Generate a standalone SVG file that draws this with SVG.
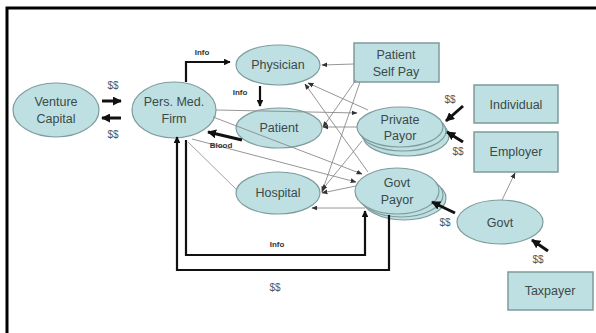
<svg xmlns="http://www.w3.org/2000/svg" width="596" height="333" viewBox="0 0 596 333">
<defs>
<marker id="thick" viewBox="0 0 10 10" refX="9" refY="5" markerWidth="3" markerHeight="3" orient="auto" markerUnits="strokeWidth"><path d="M0,0 L10,5 L0,10 z" fill="#111"/></marker>
<marker id="thin" viewBox="0 0 10 10" refX="9" refY="5" markerWidth="6" markerHeight="6" orient="auto" markerUnits="userSpaceOnUse"><path d="M0,1 L10,5 L0,9 z" fill="#333"/></marker>
<style>
.el{fill:#bfe0e3;stroke:#7f9c9c;stroke-width:1.2}
.bx{fill:#bfe0e3;stroke:#7f9a9a;stroke-width:1.5}
.t{font-family:"Liberation Sans",Arial,sans-serif;font-size:12.5px;fill:#3a4a4a;text-anchor:middle}
.s{font-family:"Liberation Sans",Arial,sans-serif;font-size:8px;font-weight:bold;fill:#333;text-anchor:middle}
.d{font-family:"Liberation Sans",Arial,sans-serif;font-size:10px;fill:#555;text-anchor:middle}
.k{fill:none;stroke:#111;stroke-width:3;marker-end:url(#thick)}
.kl{fill:none;stroke:#111;stroke-width:2.2}
.n{fill:none;stroke:#8a8a8a;stroke-width:0.9;marker-end:url(#thin)}
.n0{fill:none;stroke:#999;stroke-width:0.9}
</style>
</defs>
<rect width="596" height="333" fill="#fff"/>
<path d="M7,333 V8 H596" fill="none" stroke="#000" stroke-width="3"/>

<g id="venture-capital"><ellipse class="el" cx="56" cy="110" rx="43" ry="27"/><text class="t" x="56" y="106">Venture</text><text class="t" x="56" y="123">Capital</text></g>
<g id="pers-med-firm"><ellipse class="el" cx="174" cy="110" rx="42" ry="28"/><text class="t" x="174" y="106">Pers. Med.</text><text class="t" x="174" y="123">Firm</text></g>
<g id="physician"><ellipse class="el" cx="278" cy="65" rx="42" ry="20"/><text class="t" x="278" y="69">Physician</text></g>
<g id="patient"><ellipse class="el" cx="279" cy="128" rx="43" ry="20"/><text class="t" x="279" y="132">Patient</text></g>
<g id="hospital"><ellipse class="el" cx="278" cy="193" rx="42" ry="21"/><text class="t" x="278" y="197">Hospital</text></g>
<g id="patient-self-pay"><rect class="bx" x="354" y="43" width="85" height="39"/><text class="t" x="396" y="59">Patient</text><text class="t" x="396" y="76">Self Pay</text></g>
<g id="private-payor"><ellipse class="el" cx="406" cy="136" rx="43" ry="20"/><ellipse class="el" cx="403" cy="131" rx="43" ry="20"/><ellipse class="el" cx="400" cy="127" rx="43" ry="20"/><text class="t" x="400" y="124">Private</text><text class="t" x="400" y="140">Payor</text></g>
<g id="govt-payor"><ellipse class="el" cx="404" cy="198" rx="42" ry="22"/><ellipse class="el" cx="401" cy="195" rx="42" ry="22"/><ellipse class="el" cx="397" cy="191" rx="42" ry="23"/><text class="t" x="397" y="187">Govt</text><text class="t" x="397" y="204">Payor</text></g>
<g id="individual"><rect class="bx" x="474" y="85" width="84" height="38"/><text class="t" x="516" y="109">Individual</text></g>
<g id="employer"><rect class="bx" x="474" y="132" width="84" height="40"/><text class="t" x="516" y="156">Employer</text></g>
<g id="govt"><ellipse class="el" cx="500" cy="222" rx="43" ry="22"/><text class="t" x="500" y="227">Govt</text></g>
<g id="taxpayer"><rect class="bx" x="508" y="272" width="85" height="38"/><text class="t" x="550" y="295">Taxpayer</text></g>

<g id="connectors">
<path class="n" d="M354,64 L322,65"/>
<path class="n" d="M356,80 L323,127"/>
<path class="n" d="M360,82 L322,192"/>
<path class="n" d="M357,127 L323,127"/>
<path class="n" d="M368,110 L308,83"/>
<path class="n" d="M362,141 L322,190"/>
<path class="n" d="M368,172 L305,84"/>
<path class="n" d="M356,186 L322,193"/>
<path class="n" d="M365,208 L312,208"/>
<path class="n" d="M216,110 L357,113"/>
<path class="n" d="M213,117 L362,174"/>
<path class="n" d="M192,139 L356,182"/>
<path class="n0" d="M188,142 L237,190"/>
<path class="n" d="M502,200 L515,173"/>
<path class="kl" d="M186,82 V62 H230" marker-end="url(#thick)"/>
<path class="kl" d="M260,86 V106" marker-end="url(#thick)"/>
<path class="k" d="M242,140 L208,132"/>
<path class="kl" d="M186,140 V255 H365 V211" marker-end="url(#thick)"/>
<path class="kl" d="M389,215 V270 H177 V137" marker-end="url(#thick)"/>
<path class="k" d="M102,101 L121,101"/>
<path class="k" d="M121,118 L102,118"/>
<path class="k" d="M463,106 L446,121"/>
<path class="k" d="M463,142 L447,132"/>
<path class="k" d="M455,213 L432,202"/>
<path class="k" d="M548,251 L532,240"/>
<text class="s" x="202" y="55">Info</text>
<text class="s" x="240" y="95">Info</text>
<text class="s" x="221" y="148">Blood</text>
<text class="s" x="277" y="247">Info</text>
<text class="d" x="113" y="89">$$</text>
<text class="d" x="113" y="138">$$</text>
<text class="d" x="450" y="103">$$</text>
<text class="d" x="458" y="155">$$</text>
<text class="d" x="445" y="226">$$</text>
<text class="d" x="538" y="263">$$</text>
<text class="d" x="275" y="291">$$</text>
</g>
</svg>
